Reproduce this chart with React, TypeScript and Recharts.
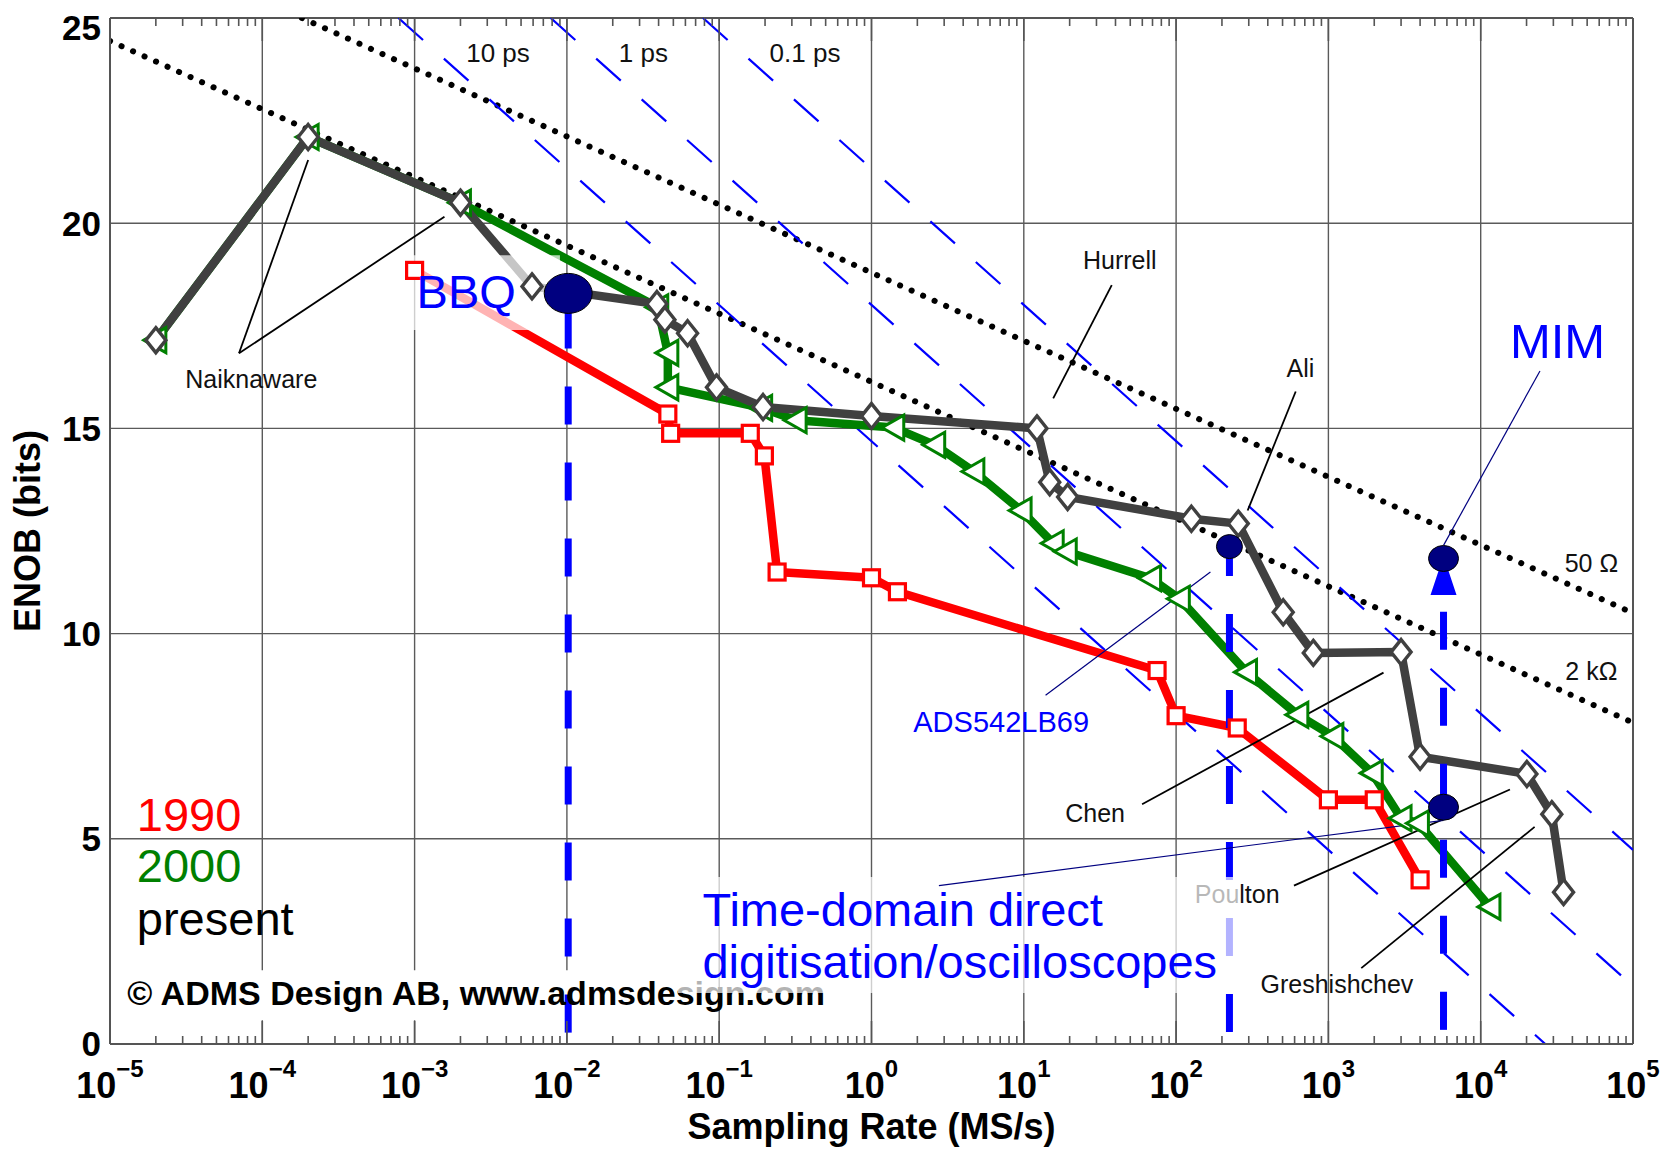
import React from 'react';
import {
  LineChart,
  Line,
  XAxis,
  YAxis,
  CartesianGrid,
  ReferenceLine,
  ReferenceDot,
  ReferenceArea,
} from 'recharts';

type Pt = { x: number; y: number };

// ---------------------------------------------------------------------------
// Data: sampling rate in MS/s, resolution in ENOB (bits)
// ---------------------------------------------------------------------------

// State-of-the-art envelope, 1990
const YEAR_1990: Pt[] = [
  { x: 1.0e-3, y: 18.85 },
  { x: 0.046, y: 15.35 },
  { x: 0.048, y: 14.88 },
  { x: 0.16, y: 14.88 },
  { x: 0.198, y: 14.33 },
  { x: 0.24, y: 11.5 },
  { x: 1.0, y: 11.36 },
  { x: 1.48, y: 11.02 },
  { x: 75, y: 9.1 },
  { x: 100, y: 8.0 },
  { x: 252, y: 7.7 },
  { x: 1000, y: 5.95 },
  { x: 2000, y: 5.95 },
  { x: 4000, y: 4.0 },
];

// State-of-the-art envelope, 2000
const YEAR_2000: Pt[] = [
  { x: 2.0e-5, y: 17.15 },
  { x: 2.0e-4, y: 22.1 },
  { x: 2.0e-3, y: 20.5 },
  { x: 0.0395, y: 17.95 },
  { x: 0.046, y: 16.84 },
  { x: 0.046, y: 16.0 },
  { x: 0.19, y: 15.5 },
  { x: 0.32, y: 15.2 },
  { x: 1.4, y: 15.02 },
  { x: 2.6, y: 14.6 },
  { x: 4.7, y: 13.95 },
  { x: 9.6, y: 13.0 },
  { x: 15.6, y: 12.2 },
  { x: 19, y: 12.0 },
  { x: 68, y: 11.35 },
  { x: 105, y: 10.85 },
  { x: 290, y: 9.06 },
  { x: 630, y: 8.02 },
  { x: 1070, y: 7.5 },
  { x: 1940, y: 6.6 },
  { x: 3000, y: 5.5 },
  { x: 3900, y: 5.38 },
  { x: 11500, y: 3.34 },
];

// State-of-the-art envelope, present
const PRESENT: Pt[] = [
  { x: 2.0e-5, y: 17.15 },
  { x: 2.0e-4, y: 22.1 },
  { x: 2.0e-3, y: 20.5 },
  { x: 5.9e-3, y: 18.46 },
  { x: 0.039, y: 18.03 },
  { x: 0.044, y: 17.65 },
  { x: 0.062, y: 17.32 },
  { x: 0.096, y: 16.0 },
  { x: 0.194, y: 15.52 },
  { x: 1.0, y: 15.3 },
  { x: 12.2, y: 15.0 },
  { x: 14.8, y: 13.69 },
  { x: 19.4, y: 13.33 },
  { x: 126, y: 12.8 },
  { x: 256, y: 12.68 },
  { x: 505, y: 10.52 },
  { x: 796, y: 9.53 },
  { x: 3000, y: 9.55 },
  { x: 4000, y: 7.0 },
  { x: 20100, y: 6.58 },
  { x: 29300, y: 5.6 },
  { x: 35000, y: 3.7 },
];

// Thermal noise limits (dotted)
const THERMAL_50_OHM: Pt[] = [
  { x: 1.82e-4, y: 25 },
  { x: 1e5, y: 10.5 },
];
const THERMAL_2_KOHM: Pt[] = [
  { x: 1e-5, y: 24.44 },
  { x: 1e5, y: 7.83 },
];

// Aperture jitter limits (blue dashed)
const JITTER_10PS: Pt[] = [
  { x: 7.83e-4, y: 25 },
  { x: 26550, y: 0 },
];
const JITTER_1PS: Pt[] = [
  { x: 7.83e-3, y: 25 },
  { x: 1e5, y: 1.41 },
];
const JITTER_01PS: Pt[] = [
  { x: 7.83e-2, y: 25 },
  { x: 1e5, y: 4.73 },
];

// Application sampling rates (thick blue dashed verticals)
const BBQ_SPAN: Pt[] = [
  { x: 0.0102, y: 17.87 },
  { x: 0.0102, y: 0 },
];
const ADS_SPAN: Pt[] = [
  { x: 224, y: 12.33 },
  { x: 224, y: 0 },
];
const MIM_SPAN: Pt[] = [
  { x: 5700, y: 10.53 },
  { x: 5700, y: 0 },
];

// Highlighted requirement points
const BBQ_POINT: Pt = { x: 0.0102, y: 18.29 };
const ADS_POINT: Pt = { x: 224, y: 12.12 };
const MIM_POINTS: Pt[] = [
  { x: 5700, y: 11.83 },
  { x: 5700, y: 5.77 },
];
const MIM_ARROW_BASE: Pt = { x: 5700, y: 10.94 };

// Author annotations: label anchor and leader lines
const AUTHOR_LABELS = [
  { text: 'Naiknaware', x: 8.47e-5, y: 15.98 },
  { text: 'Hurrell', x: 42.7, y: 18.88 },
  { text: 'Ali', x: 656, y: 16.25 },
  { text: 'Chen', x: 29.4, y: 5.41 },
  { text: 'Poulton', x: 252, y: 3.44 },
  { text: 'Greshishchev', x: 1138, y: 1.24 },
];
const AUTHOR_LEADERS: [Pt, Pt][] = [
  [{ x: 7.03e-5, y: 16.83 }, { x: 2.0e-4, y: 21.54 }],
  [{ x: 7.03e-5, y: 16.83 }, { x: 1.57e-3, y: 20.16 }],
  [{ x: 15.6, y: 15.73 }, { x: 37.8, y: 18.49 }],
  [{ x: 295, y: 13.0 }, { x: 610, y: 15.9 }],
  [{ x: 59.8, y: 5.84 }, { x: 2300, y: 9.05 }],
  [{ x: 594, y: 3.86 }, { x: 15560, y: 6.2 }],
  [{ x: 1644, y: 1.85 }, { x: 22600, y: 5.29 }],
];
const APP_LEADERS: [Pt, Pt][] = [
  [{ x: 13.9, y: 8.5 }, { x: 168, y: 11.5 }],
  [{ x: 24500, y: 16.4 }, { x: 5700, y: 12.15 }],
  [{ x: 2.77, y: 3.86 }, { x: 5700, y: 5.45 }],
];

const JITTER_LABELS = [
  { text: '10 ps', x: 3.53e-3, y: 23.93 },
  { text: '1 ps', x: 0.0318, y: 23.93 },
  { text: '0.1 ps', x: 0.366, y: 23.93 },
];
const THERMAL_LABELS = [
  { text: '50 \u03A9', x: 53300, y: 11.49 },
  { text: '2 k\u03A9', x: 53300, y: 8.88 },
];
const LEGEND_LABELS = [
  { text: '1990', color: '#ff0000', x: 1.5e-5, y: 5.2 },
  { text: '2000', color: '#008000', x: 1.5e-5, y: 3.95 },
  { text: 'present', color: '#000000', x: 1.5e-5, y: 2.66 },
];

// Axis ticks
const DECADES = [1e-5, 1e-4, 1e-3, 1e-2, 1e-1, 1, 10, 100, 1000, 1e4, 1e5];
const MINOR_STEPS = [2, 3, 4, 5, 6, 7, 8, 9];
const X_TICKS = DECADES.flatMap((d, i) =>
  i < DECADES.length - 1 ? [d, ...MINOR_STEPS.map((m) => m * d)] : [d]
);
const ENOB_TICKS = [0, 5, 10, 15, 20, 25];

// ---------------------------------------------------------------------------
// Layout and style
// ---------------------------------------------------------------------------
const CHART_W = 1669;
const CHART_H = 1144;
const MARGIN = { top: 10, right: 44, bottom: 0, left: 0 };
const Y_AXIS_W = 102;
const X_AXIS_H = 108;
const PLOT_H = CHART_H - MARGIN.top - X_AXIS_H;

const FONT = '"Liberation Sans", Arial, Helvetica, sans-serif';
const AXIS_COLOR = '#555555';
const GRID_COLOR = '#5a5a5a';
const RED = '#ff0000';
const GREEN = '#008000';
const GRAY = '#404040';
const BLUE = '#0000ff';
const NAVY = '#000080';
const SERIES_WIDTH = 8.5;

// ---------------------------------------------------------------------------
// Markers
// ---------------------------------------------------------------------------
const diamondMarker = (p: any) => {
  const { cx, cy, index } = p;
  if (cx == null || cy == null) return <g key={`dm-${index}`} />;
  return (
    <path
      key={`dm-${index}`}
      d={`M${cx} ${cy - 12.5}L${cx + 10} ${cy}L${cx} ${cy + 12.5}L${cx - 10} ${cy}Z`}
      fill="#ffffff"
      stroke={GRAY}
      strokeWidth={3.4}
    />
  );
};

const triangleMarker = (p: any) => {
  const { cx, cy, index } = p;
  if (cx == null || cy == null) return <g key={`tr-${index}`} />;
  return (
    <path
      key={`tr-${index}`}
      d={`M${cx - 12} ${cy}L${cx + 10} ${cy - 12.5}L${cx + 10} ${cy + 12.5}Z`}
      fill="#ffffff"
      stroke={GREEN}
      strokeWidth={3}
    />
  );
};

const squareMarker = (p: any) => {
  const { cx, cy, index } = p;
  if (cx == null || cy == null) return <g key={`sq-${index}`} />;
  return (
    <rect
      key={`sq-${index}`}
      x={cx - 8}
      y={cy - 8}
      width={16}
      height={16}
      fill="#ffffff"
      stroke={RED}
      strokeWidth={3.2}
    />
  );
};

// ---------------------------------------------------------------------------
// Axis ticks: MATLAB-style inward minor ticks on bottom and top, 10^n labels
// ---------------------------------------------------------------------------
const XTick = (props: any) => {
  const { x, y, payload } = props;
  const v = Number(payload.value);
  const lg = Math.log10(v);
  const exp = Math.round(lg);
  const major = Math.abs(lg - exp) < 1e-6;
  const len = major ? 23 : 8;
  const top = y - PLOT_H;
  return (
    <g>
      <line x1={x} x2={x} y1={y} y2={y - len} stroke={AXIS_COLOR} strokeWidth={1.6} />
      <line x1={x} x2={x} y1={top} y2={top + len} stroke={AXIS_COLOR} strokeWidth={1.6} />
      {major && (
        <text
          x={x}
          y={y + 54}
          textAnchor="middle"
          fontFamily={FONT}
          fontWeight="bold"
          fontSize={36}
          fill="#000"
        >
          10
          <tspan dy={-21} fontSize={24}>
            {exp < 0 ? `\u2212${-exp}` : `${exp}`}
          </tspan>
        </text>
      )}
    </g>
  );
};

const textShape =
  (text: string, opts: { size: number; color?: string; anchor?: string; weight?: string }) =>
  (p: any) =>
    (
      <text
        x={p.cx}
        y={p.cy}
        textAnchor={(opts.anchor || 'middle') as any}
        fontFamily={FONT}
        fontSize={opts.size}
        fontWeight={opts.weight || 'normal'}
        fill={opts.color || '#111'}
      >
        {text}
      </text>
    );

const ellipseShape = (rx: number, ry: number) => (p: any) =>
  <ellipse cx={p.cx} cy={p.cy} rx={rx} ry={ry} fill={NAVY} stroke="#000" strokeWidth={1} />;

const arrowShape = (p: any) => (
  <polygon
    points={`${p.cx - 13},${p.cy} ${p.cx + 13},${p.cy} ${p.cx + 3},${p.cy - 30} ${p.cx - 3},${p.cy - 30}`}
    fill={BLUE}
  />
);

const DOTTED = { stroke: '#000', strokeWidth: 6, strokeDasharray: '0.1 12.5', strokeLinecap: 'round' as const };
const JITTER = { stroke: BLUE, strokeWidth: 2.2, strokeDasharray: '33 28' };
const SPAN = { stroke: BLUE, strokeWidth: 7, strokeDasharray: '38 38' };

export default function App() {
  return (
    <LineChart
      width={CHART_W}
      height={CHART_H}
      margin={MARGIN}
      style={{ fontFamily: FONT, background: '#fff' }}
    >
      <CartesianGrid vertical={false} stroke={GRID_COLOR} strokeWidth={1.4} zIndex={100} />
      {DECADES.map((d) => (
        <ReferenceLine key={`g-${d}`} x={d} stroke={GRID_COLOR} strokeWidth={1.4} zIndex={100} />
      ))}
      <ReferenceLine y={25} stroke={AXIS_COLOR} strokeWidth={2} zIndex={110} />
      <ReferenceLine x={1e5} stroke={AXIS_COLOR} strokeWidth={2} zIndex={110} />

      {/* opaque backing of the copyright line */}
      <ReferenceArea
        x1={1.16e-5}
        x2={0.0748}
        y1={0.58}
        y2={1.8}
        fill="#ffffff"
        fillOpacity={1}
        stroke="none"
        zIndex={150}
      />

      <XAxis
        dataKey="x"
        type="number"
        scale="log"
        domain={[1e-5, 1e5]}
        allowDataOverflow
        ticks={X_TICKS}
        interval={0}
        height={X_AXIS_H}
        tickSize={0}
        tickMargin={0}
        tickLine={false}
        axisLine={{ stroke: AXIS_COLOR, strokeWidth: 2 }}
        tick={(p: any) => <XTick {...p} />}
        label={{
          content: () => (
            <text
              x={Y_AXIS_W + (CHART_W - Y_AXIS_W - MARGIN.right) / 2}
              y={MARGIN.top + PLOT_H + 95}
              textAnchor="middle"
              fontFamily={FONT}
              fontWeight="bold"
              fontSize={36}
              fill="#000"
            >
              Sampling Rate (MS/s)
            </text>
          ),
        }}
      />
      <YAxis
        type="number"
        domain={[0, 25]}
        allowDataOverflow
        ticks={ENOB_TICKS}
        width={Y_AXIS_W}
        tickSize={0}
        tickMargin={9}
        tickLine={false}
        axisLine={{ stroke: AXIS_COLOR, strokeWidth: 2 }}
        tick={{ fontSize: 35, fontWeight: 'bold', fill: '#000', fontFamily: FONT }}
        label={{
          content: () => (
            <text
              transform={`translate(31.5, ${MARGIN.top + PLOT_H / 2}) rotate(-90)`}
              textAnchor="middle"
              fontFamily={FONT}
              fontWeight="bold"
              fontSize={36}
              fill="#000"
            >
              ENOB (bits)
            </text>
          ),
        }}
      />

      {/* thermal and jitter limits */}
      <Line data={THERMAL_50_OHM} dataKey="y" {...DOTTED} dot={false} activeDot={false} isAnimationActive={false} zIndex={200} />
      <Line data={THERMAL_2_KOHM} dataKey="y" {...DOTTED} dot={false} activeDot={false} isAnimationActive={false} zIndex={200} />
      <Line data={JITTER_10PS} dataKey="y" {...JITTER} dot={false} activeDot={false} isAnimationActive={false} zIndex={200} />
      <Line data={JITTER_1PS} dataKey="y" {...JITTER} dot={false} activeDot={false} isAnimationActive={false} zIndex={200} />
      <Line data={JITTER_01PS} dataKey="y" {...JITTER} dot={false} activeDot={false} isAnimationActive={false} zIndex={200} />

      {/* envelopes */}
      <Line data={YEAR_1990} dataKey="y" stroke={RED} strokeWidth={SERIES_WIDTH} strokeLinejoin="round" dot={squareMarker} activeDot={false} isAnimationActive={false} zIndex={300} />
      <Line data={YEAR_2000} dataKey="y" stroke={GREEN} strokeWidth={SERIES_WIDTH} strokeLinejoin="round" dot={triangleMarker} activeDot={false} isAnimationActive={false} zIndex={310} />
      <Line data={PRESENT} dataKey="y" stroke={GRAY} strokeWidth={SERIES_WIDTH} strokeLinejoin="round" dot={diamondMarker} activeDot={false} isAnimationActive={false} zIndex={320} />

      {/* application sampling rates */}
      <Line data={BBQ_SPAN} dataKey="y" {...SPAN} dot={false} activeDot={false} isAnimationActive={false} zIndex={400} />
      <Line data={ADS_SPAN} dataKey="y" {...SPAN} dot={false} activeDot={false} isAnimationActive={false} zIndex={400} />
      <Line data={MIM_SPAN} dataKey="y" {...SPAN} dot={false} activeDot={false} isAnimationActive={false} zIndex={400} />

      {/* author annotations */}
      {AUTHOR_LEADERS.map((seg, i) => (
        <ReferenceLine key={`al-${i}`} segment={seg} stroke="#000" strokeWidth={1.8} zIndex={450} />
      ))}
      {AUTHOR_LABELS.map((l) => (
        <ReferenceDot key={l.text} x={l.x} y={l.y} r={0} shape={textShape(l.text, { size: 25 })} zIndex={460} />
      ))}
      {JITTER_LABELS.map((l) => (
        <ReferenceDot key={l.text} x={l.x} y={l.y} r={0} shape={textShape(l.text, { size: 26 })} zIndex={460} />
      ))}
      {THERMAL_LABELS.map((l) => (
        <ReferenceDot key={l.text} x={l.x} y={l.y} r={0} shape={textShape(l.text, { size: 25 })} zIndex={460} />
      ))}
      {LEGEND_LABELS.map((l) => (
        <ReferenceDot key={l.text} x={l.x} y={l.y} r={0} shape={textShape(l.text, { size: 47, color: l.color, anchor: 'start' })} zIndex={460} />
      ))}
      <ReferenceDot
        x={1.3e-5}
        y={0.95}
        r={0}
        shape={textShape('\u00A9 ADMS Design AB, www.admsdesign.com', { size: 34, color: '#000', anchor: 'start', weight: 'bold' })}
        zIndex={460}
      />

      {/* translucent text backings */}
      <ReferenceArea x1={8.65e-4} x2={9.0e-3} y1={17.4} y2={19.22} fill="#ffffff" fillOpacity={0.7} stroke="none" zIndex={500} />
      <ReferenceArea x1={0.0536} x2={263} y1={1.24} y2={4.07} fill="#ffffff" fillOpacity={0.7} stroke="none" zIndex={500} />

      {/* application markers and notes */}
      {APP_LEADERS.map((seg, i) => (
        <ReferenceLine key={`bl-${i}`} segment={seg} stroke={NAVY} strokeWidth={1.2} zIndex={600} />
      ))}
      <ReferenceDot x={MIM_ARROW_BASE.x} y={MIM_ARROW_BASE.y} r={0} shape={arrowShape} zIndex={610} />
      <ReferenceDot x={BBQ_POINT.x} y={BBQ_POINT.y} r={0} shape={ellipseShape(24, 20)} zIndex={620} />
      <ReferenceDot x={ADS_POINT.x} y={ADS_POINT.y} r={0} shape={ellipseShape(13, 12)} zIndex={620} />
      {MIM_POINTS.map((m, i) => (
        <ReferenceDot key={`mim-${i}`} x={m.x} y={m.y} r={0} shape={ellipseShape(15, 13)} zIndex={620} />
      ))}
      <ReferenceDot x={1.03e-3} y={17.93} r={0} shape={textShape('BBQ', { size: 47, color: BLUE, anchor: 'start' })} zIndex={630} />
      <ReferenceDot x={15560} y={16.72} r={0} shape={textShape('MIM', { size: 49, color: BLUE, anchor: 'start' })} zIndex={630} />
      <ReferenceDot x={7.1} y={7.6} r={0} shape={textShape('ADS542LB69', { size: 29, color: BLUE })} zIndex={630} />
      <ReferenceDot x={0.0776} y={2.87} r={0} shape={textShape('Time-domain direct', { size: 47, color: BLUE, anchor: 'start' })} zIndex={630} />
      <ReferenceDot x={0.0776} y={1.6} r={0} shape={textShape('digitisation/oscilloscopes', { size: 47, color: BLUE, anchor: 'start' })} zIndex={630} />
    </LineChart>
  );
}
